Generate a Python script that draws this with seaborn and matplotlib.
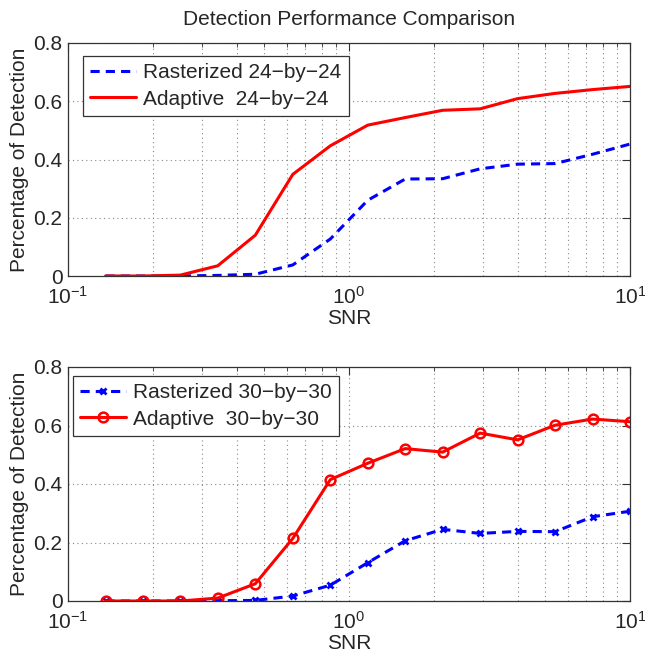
import matplotlib
matplotlib.use("Agg")
import matplotlib.pyplot as plt
import seaborn as sns
import pandas as pd
import numpy as np
from matplotlib.ticker import LogLocator, NullFormatter

snr = [0.136, 0.185, 0.251, 0.341, 0.464, 0.631, 0.858, 1.166, 1.585, 2.154,
       2.929, 3.981, 5.412, 7.356, 10.0]

rast24 = [0.0, 0.0, 0.0, 0.002, 0.006, 0.038, 0.127, 0.26, 0.333, 0.334,
          0.368, 0.384, 0.386, 0.418, 0.453]
adapt24 = [0.0, 0.0, 0.003, 0.035, 0.14, 0.349, 0.447, 0.518, 0.544, 0.569,
           0.574, 0.609, 0.627, 0.640, 0.651]

rast30 = [0.0, 0.0, 0.0, 0.001, 0.002, 0.017, 0.054, 0.131, 0.206, 0.245,
          0.231, 0.238, 0.237, 0.288, 0.307]
adapt30 = [0.0, 0.0, 0.0, 0.010, 0.059, 0.214, 0.415, 0.471, 0.521, 0.509,
           0.574, 0.551, 0.601, 0.622, 0.613]

labels_top = ["Rasterized 24\u2212by\u221224", "Adaptive  24\u2212by\u221224"]
labels_bot = ["Rasterized 30\u2212by\u221230", "Adaptive  30\u2212by\u221230"]
title = "Detection Performance Comparison"
xlabel = "SNR"
ylabel = "Percentage of Detection"
yticks = [0, 0.2, 0.4, 0.6, 0.8]
yticklabels = ["0", "0.2", "0.4", "0.6", "0.8"]

sns.set_style("white")
plt.rcParams['font.family'] = ['Liberation Sans', 'DejaVu Sans']
plt.rcParams['mathtext.fontset'] = 'custom'
plt.rcParams['mathtext.rm'] = 'Liberation Sans'
plt.rcParams['mathtext.it'] = 'Liberation Sans'

W, H = 645, 658
fig = plt.figure(figsize=(W / 100, H / 100), dpi=100)
ax1 = fig.add_axes([68/W, 1-276/H, 562/W, 233/H])
ax2 = fig.add_axes([68/W, 1-601/H, 562/W, 234/H])

df_top = pd.DataFrame({"snr": snr, "r": rast24, "a": adapt24})
df_bot = pd.DataFrame({"snr": snr, "r": rast30, "a": adapt30})

sns.lineplot(data=df_top, x="snr", y="r", ax=ax1, color="#0000ff", lw=2.2,
             linestyle=(0, (3, 2)), label=labels_top[0])
sns.lineplot(data=df_top, x="snr", y="a", ax=ax1, color="#ff0000", lw=2.2,
             label=labels_top[1])

sns.lineplot(data=df_bot, x="snr", y="r", ax=ax2, color="#0000ff", lw=2.2,
             linestyle=(0, (3, 2)), marker="x", markersize=5, mew=2,
             mec="#0000ff", label=labels_bot[0])
sns.lineplot(data=df_bot, x="snr", y="a", ax=ax2, color="#ff0000", lw=2.2,
             marker="o", markersize=7, mfc="none", mec="#ff0000", mew=1.8,
             label=labels_bot[1])

FS = 15
for ax in (ax1, ax2):
    ax.set_xscale("log")
    ax.set_xlim(0.1, 10)
    ax.set_ylim(0, 0.8)
    ax.set_yticks(yticks)
    ax.set_yticklabels(yticklabels)
    ax.xaxis.set_major_locator(LogLocator(base=10, numticks=10))
    ax.xaxis.set_minor_locator(LogLocator(base=10, subs=np.arange(2, 10), numticks=20))
    ax.xaxis.set_minor_formatter(NullFormatter())
    ax.grid(True, which="major", axis="both", linestyle=(0, (1, 3)), color="#888888", lw=0.8)
    ax.grid(True, which="minor", axis="x", linestyle=(0, (1, 3)), color="#888888", lw=0.8)
    ax.tick_params(which="both", direction="in", top=True, right=True,
                   labelsize=FS, color="#333333")
    ax.tick_params(which="major", length=6, width=0.8)
    ax.tick_params(which="minor", length=3, width=0.6)
    ax.tick_params(axis="x", pad=7)
    ax.tick_params(axis="y", pad=4)
    for s in ax.spines.values():
        s.set_color("#333333")
        s.set_linewidth(0.9)
    ax.set_xlabel(xlabel, fontsize=FS, labelpad=1)
    ax.set_ylabel(ylabel, fontsize=FS, labelpad=3)

def add_legend(ax, x0, y0):
    # anchor in axes fraction from pixel offsets relative to axes
    bb = ax.get_position()
    ax_w = bb.width * W
    ax_h = bb.height * H
    leg = ax.legend(loc="upper left", bbox_to_anchor=(x0 / ax_w, 1 - y0 / ax_h),
                    fontsize=FS, frameon=True, fancybox=False,
                    framealpha=1, edgecolor="#333333", handlelength=2.2,
                    handletextpad=0.35, borderaxespad=0, borderpad=0.35,
                    labelspacing=0.35)
    leg.get_frame().set_linewidth(0.9)

add_legend(ax1, 15, 13)
add_legend(ax2, 5, 9)

ax1.set_title(title, fontsize=FS, pad=13)

fig.savefig("out.png", dpi=100)
